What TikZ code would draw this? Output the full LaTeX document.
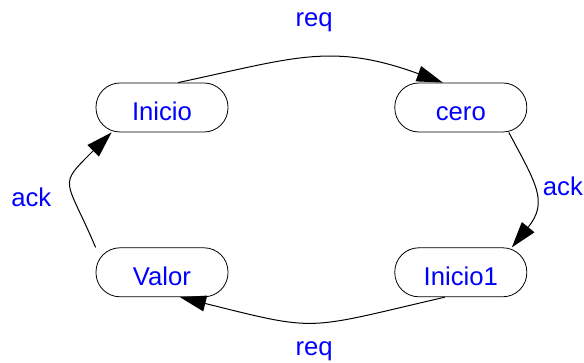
\documentclass[tikz,border=0pt]{standalone}
\usepackage{fontspec}
\setmainfont{Liberation Sans}
\usetikzlibrary{positioning,arrows.meta}

\begin{document}
\begin{tikzpicture}[
        x=1pt, y=1pt,
        node distance=115pt and 166pt,
        state_style/.style={draw=black, line width=0.8pt, fill=white, rectangle, rounded corners=24pt, minimum width=132pt, minimum height=49pt, inner sep=0pt, text height=27pt, text depth=0pt, font=\fontsize{25.7}{30}\selectfont, text=blue},
        edge_style/.style={line width=1pt, -{Triangle[length=26pt,width=16pt]}},
        label_style/.style={inner sep=0pt, font=\fontsize{25.7}{30}\selectfont, text=blue}
    ]
    \useasboundingbox (0,0) rectangle (584,363);

    % States
    \node[state_style] (Inicio) at (162,255.5) {Inicio};
    \node[state_style, right=of Inicio] (cero) {cero};
    \node[state_style, below=of cero] (Inicio1) {Inicio1};
    \node[state_style, below=of Inicio] (Valor) {Valor};

    % Transitions
    \draw[edge_style] ([xshift=16pt]Inicio.north) to[out=12, in=160, looseness=1.15] node[label_style, above=26pt, xshift=2pt] (reqTop) {req} ([xshift=-18pt]cero.north);
    \draw[edge_style] ([xshift=48pt]cero.south) to[out=-62, in=51, looseness=1.3] node[label_style, right=8pt, yshift=6pt] (ackRight) {ack} ([xshift=51pt]Inicio1.north);
    \draw[edge_style] ([xshift=-16pt]Inicio1.south) to[out=-167, in=-14, looseness=1.4] node[label_style, below=19pt, xshift=2pt] (reqBottom) {req} ([xshift=18pt]Valor.south);
    \draw[edge_style] (Valor.north west) to[out=113, in=225, looseness=1.7] node[label_style, left=20pt, yshift=-14pt] (ackLeft) {ack} ([xshift=16pt]Inicio.south west);

\end{tikzpicture}
\end{document}
